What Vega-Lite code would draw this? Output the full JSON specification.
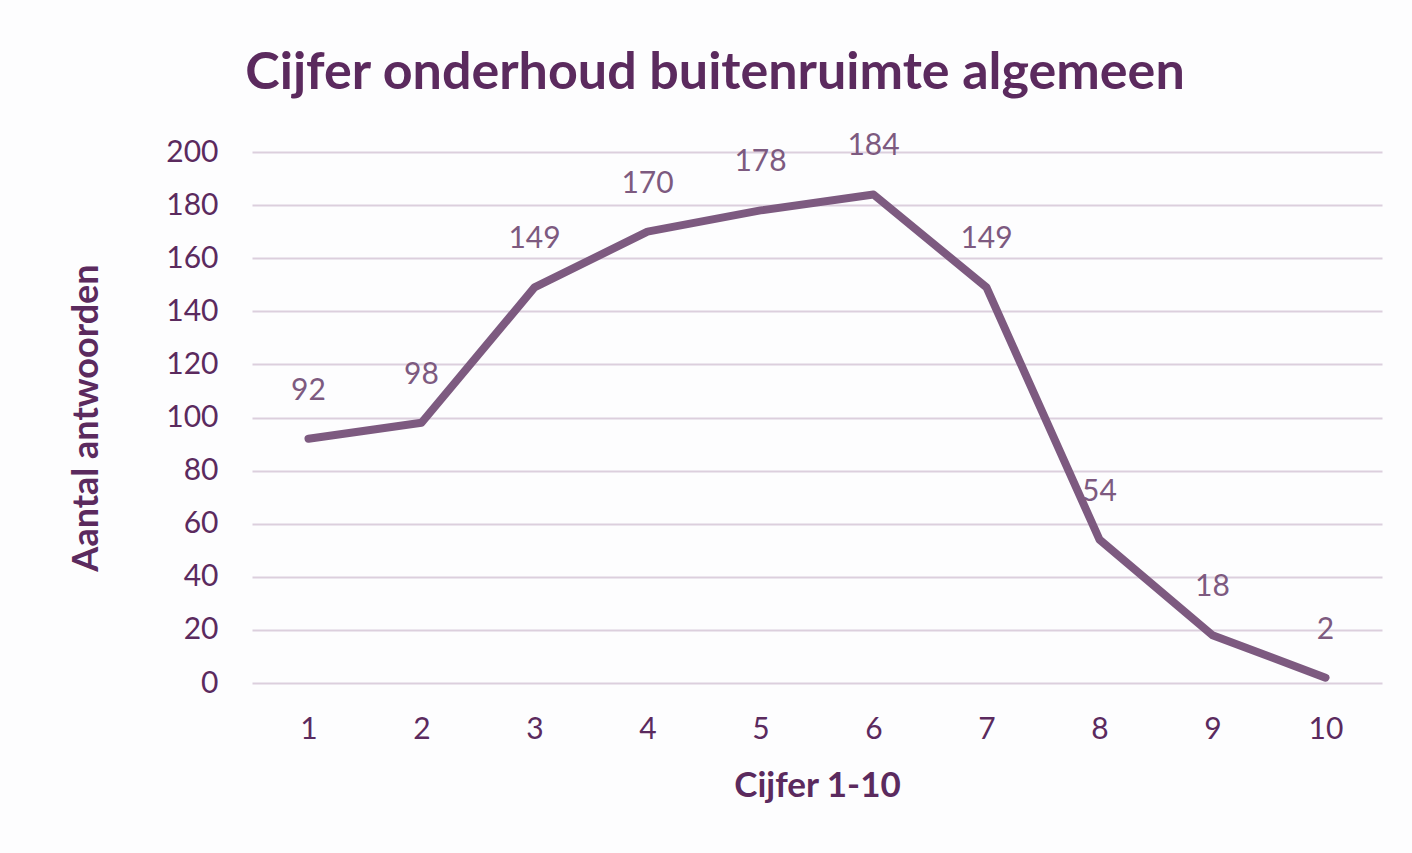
{
  "$schema": "https://vega.github.io/schema/vega-lite/v6.json",
  "autosize": {"type": "none"},
  "width": 1130,
  "height": 531,
  "padding": {"left": 252, "top": 152, "right": 30, "bottom": 170},
  "background": "#FDFDFE",
  "config": {
    "view": {"stroke": null},
    "font": "Lato"
  },
  "title": {
    "text": "Cijfer onderhoud buitenruimte algemeen",
    "anchor": "middle",
    "frame": "group",
    "dx": -102,
    "fontSize": 52,
    "fontWeight": "bold",
    "color": "#5B2A5E",
    "font": "Lato",
    "offset": 31
  },
  "data": {
    "values": [
      {"cijfer": "1", "aantal": 92},
      {"cijfer": "2", "aantal": 98},
      {"cijfer": "3", "aantal": 149},
      {"cijfer": "4", "aantal": 170},
      {"cijfer": "5", "aantal": 178},
      {"cijfer": "6", "aantal": 184},
      {"cijfer": "7", "aantal": 149},
      {"cijfer": "8", "aantal": 54},
      {"cijfer": "9", "aantal": 18},
      {"cijfer": "10", "aantal": 2}
    ]
  },
  "encoding": {
    "x": {
      "field": "cijfer",
      "type": "ordinal",
      "sort": null,
      "scale": {"type": "point", "padding": 0.5},
      "axis": {
        "title": "Cijfer 1-10",
        "titleFontSize": 35,
        "titleFontWeight": "bold",
        "titleColor": "#5B2A5E",
        "titlePadding": 24,
        "labelAngle": 0,
        "labelFontSize": 30,
        "labelColor": "#5B2A5E",
        "labelPadding": 31,
        "ticks": false,
        "domain": false,
        "grid": false
      }
    },
    "y": {
      "field": "aantal",
      "type": "quantitative",
      "scale": {"domain": [0, 200], "nice": false},
      "axis": {
        "title": "Aantal antwoorden",
        "titleFontSize": 36,
        "titleFontWeight": "bold",
        "titleColor": "#5B2A5E",
        "titlePadding": 60,
        "values": [0, 20, 40, 60, 80, 100, 120, 140, 160, 180, 200],
        "labelFontSize": 30,
        "labelColor": "#5B2A5E",
        "labelPadding": 34,
        "ticks": false,
        "domain": false,
        "gridColor": "#DCCFDD",
        "gridWidth": 2
      }
    }
  },
  "layer": [
    {
      "mark": {"type": "line", "color": "#7D5A80", "strokeWidth": 8, "strokeCap": "round", "strokeJoin": "round"}
    },
    {
      "mark": {"type": "text", "dy": -48, "fontSize": 30, "color": "#7D5A80", "baseline": "middle"},
      "encoding": {"text": {"field": "aantal", "type": "quantitative"}}
    }
  ]
}
